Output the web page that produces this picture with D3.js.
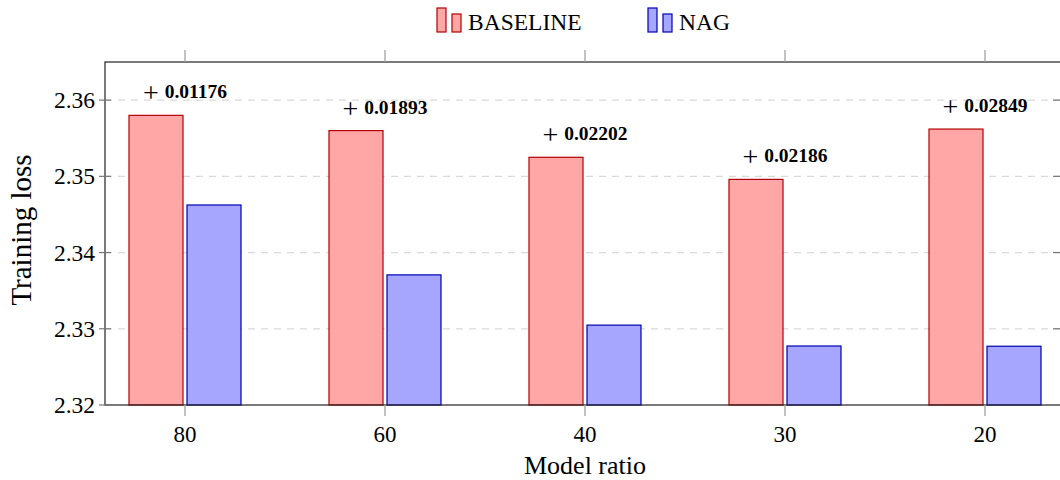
<!DOCTYPE html>
<html>
<head>
<meta charset="utf-8">
<script src="https://cdn.jsdelivr.net/npm/d3@7"></script>
<style>
  body { margin: 0; background: #fff; }
  text { font-family: "Liberation Serif", "Times New Roman", serif; }
</style>
</head>
<body>
<svg id="chart" width="1060" height="480"></svg>
<script>
// Data
const categories = ["80", "60", "40", "30", "20"];
const baselineLoss = [2.3580, 2.3560, 2.3525, 2.3496, 2.3562];
const nagLoss = [2.34624, 2.33707, 2.33048, 2.32774, 2.32771];
const gains = ["0.01176", "0.01893", "0.02202", "0.02186", "0.02849"];
const yTicks = [2.32, 2.33, 2.34, 2.35, 2.36];
const seriesNames = ["BASELINE", "NAG"];

const svg = d3.select("#chart");

// Plot frame
const plotL = 105, plotR = 1065, plotT = 62, plotB = 405;

const x = d3.scaleLinear().domain([-0.4, categories.length - 0.6]).range([plotL, plotR]);
const y = d3.scaleLinear().domain([2.32, 2.365]).range([plotB, plotT]);

const barW = 54, gap = 2;
const colors = [
  { fill: "#ffa6a6", stroke: "#b30000" },
  { fill: "#a6a6ff", stroke: "#0000b3" }
];

// Grid lines
svg.append("g")
  .selectAll("line")
  .data(yTicks.filter(d => d > 2.32))
  .join("line")
  .attr("x1", plotL).attr("x2", plotR)
  .attr("y1", d => y(d)).attr("y2", d => y(d))
  .attr("stroke", "#d9d9d9")
  .attr("stroke-width", 1.2)
  .attr("stroke-dasharray", "7,6");

// Bars
const groups = svg.append("g")
  .selectAll("g")
  .data(categories)
  .join("g");

groups.append("rect")
  .attr("x", (d, i) => x(i) - gap - barW)
  .attr("y", (d, i) => y(baselineLoss[i]))
  .attr("width", barW)
  .attr("height", (d, i) => plotB - y(baselineLoss[i]))
  .attr("fill", colors[0].fill)
  .attr("stroke", colors[0].stroke)
  .attr("stroke-width", 1.2);

groups.append("rect")
  .attr("x", (d, i) => x(i) + gap)
  .attr("y", (d, i) => y(nagLoss[i]))
  .attr("width", barW)
  .attr("height", (d, i) => plotB - y(nagLoss[i]))
  .attr("fill", colors[1].fill)
  .attr("stroke", colors[1].stroke)
  .attr("stroke-width", 1.2);

// Gain annotations
const ann = groups.append("text")
  .attr("x", (d, i) => x(i))
  .attr("y", (d, i) => y(baselineLoss[i]) - 17)
  .attr("text-anchor", "middle")
  .attr("fill", "#000");
ann.append("tspan").attr("dy", 4).style("font-size", "28px").text("+");
ann.append("tspan").attr("dx", 6).attr("dy", -4).style("font-size", "19.5px").style("font-weight", "bold").text((d, i) => gains[i]);

// Frame
svg.append("rect")
  .attr("x", plotL).attr("y", plotT)
  .attr("width", plotR - plotL).attr("height", plotB - plotT)
  .attr("fill", "none")
  .attr("stroke", "#222")
  .attr("stroke-width", 1.2);

// X ticks (bottom and top, outside)
const xt = svg.append("g");
xt.selectAll("line.b")
  .data(categories)
  .join("line")
  .attr("class", "b")
  .attr("x1", (d, i) => x(i)).attr("x2", (d, i) => x(i))
  .attr("y1", plotB).attr("y2", plotB + 11)
  .attr("stroke", "#999").attr("stroke-width", 1.2);
xt.selectAll("line.t")
  .data(categories)
  .join("line")
  .attr("class", "t")
  .attr("x1", (d, i) => x(i)).attr("x2", (d, i) => x(i))
  .attr("y1", plotT - 12).attr("y2", plotT)
  .attr("stroke", "#999").attr("stroke-width", 1.2);
xt.selectAll("text")
  .data(categories)
  .join("text")
  .attr("x", (d, i) => x(i))
  .attr("y", plotB + 37)
  .attr("text-anchor", "middle")
  .style("font-size", "23px")
  .text(d => d);

// Y ticks
const yt = svg.append("g");
yt.selectAll("line.l")
  .data(yTicks)
  .join("line")
  .attr("class", "l")
  .attr("x1", plotL - 6).attr("x2", plotL + 6)
  .attr("y1", d => y(d)).attr("y2", d => y(d))
  .attr("stroke", "#777").attr("stroke-width", 1.2);
yt.selectAll("line.r")
  .data(yTicks)
  .join("line")
  .attr("class", "r")
  .attr("x1", plotR - 12).attr("x2", plotR)
  .attr("y1", d => y(d)).attr("y2", d => y(d))
  .attr("stroke", "#777").attr("stroke-width", 1.2);
yt.selectAll("text")
  .data(yTicks)
  .join("text")
  .attr("x", plotL - 10)
  .attr("y", d => y(d) + 8)
  .attr("text-anchor", "end")
  .style("font-size", "23.5px")
  .text(d => d3.format(".2f")(d));

// Axis titles
svg.append("text")
  .attr("x", 585)
  .attr("y", 474)
  .attr("text-anchor", "middle")
  .style("font-size", "26px")
  .text("Model ratio");

svg.append("text")
  .attr("transform", `translate(31, 230) rotate(-90)`)
  .attr("text-anchor", "middle")
  .style("font-size", "29px")
  .text("Training loss");

// Legend
const legendX = [437, 648];
const legend = svg.append("g")
  .selectAll("g")
  .data(seriesNames)
  .join("g")
  .attr("transform", (d, i) => `translate(${legendX[i]}, 0)`);
legend.append("rect")
  .attr("x", 0).attr("y", 8).attr("width", 9).attr("height", 24)
  .attr("fill", (d, i) => colors[i].fill)
  .attr("stroke", (d, i) => colors[i].stroke)
  .attr("stroke-width", 1.2);
legend.append("rect")
  .attr("x", 15).attr("y", 14).attr("width", 9).attr("height", 18)
  .attr("fill", (d, i) => colors[i].fill)
  .attr("stroke", (d, i) => colors[i].stroke)
  .attr("stroke-width", 1.2);
legend.append("text")
  .attr("x", 31).attr("y", 30)
  .style("font-size", "23.5px")
  .text(d => d);
</script>
</body>
</html>
